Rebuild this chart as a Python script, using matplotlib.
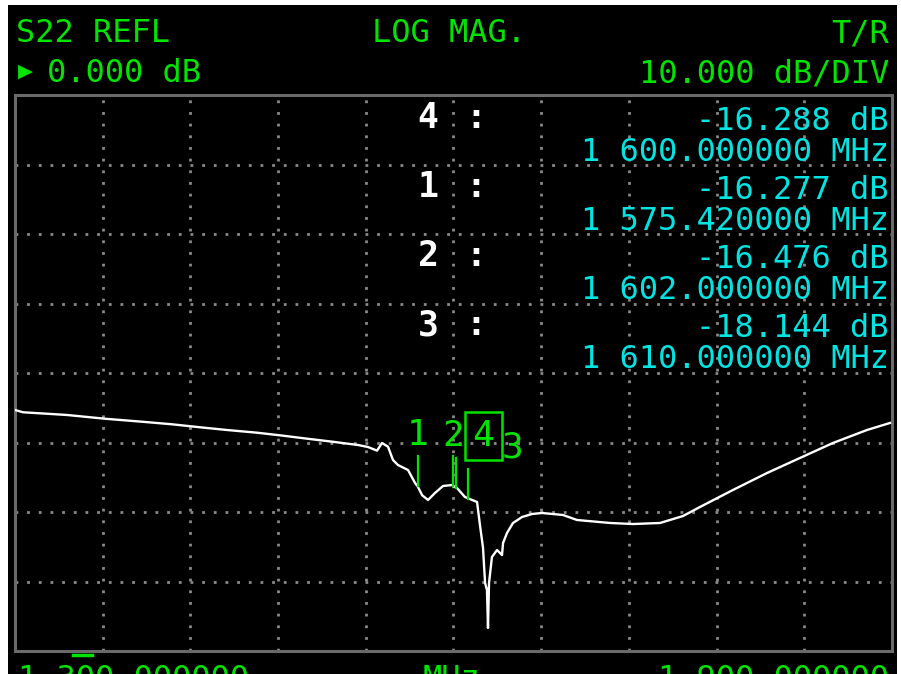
import numpy as np
import matplotlib.pyplot as plt
from matplotlib.patches import Rectangle
from matplotlib.lines import Line2D

W, H = 901, 674

# S22 trace (MHz, dB)
freq = [1300.0, 1305.5, 1335.6, 1361.6, 1386.9, 1407.4, 1426.6, 1445.0, 1465.6, 1483.4,
        1499.8, 1516.9, 1534.7, 1541.5, 1547.7, 1551.1, 1555.2, 1558.6, 1562.0, 1568.9,
        1573.7, 1575.4, 1578.6, 1582.6, 1587.3, 1592.8, 1598.8, 1602.4, 1607.8, 1616.1,
        1618.1, 1620.2, 1621.6, 1622.9, 1623.6, 1624.3, 1626.3, 1629.8, 1633.2, 1633.9,
        1636.6, 1640.7, 1646.9, 1653.7, 1660.5, 1674.9, 1684.5, 1707.1, 1722.8, 1741.3,
        1757.0, 1768.6, 1791.2, 1814.5, 1837.0, 1859.6, 1882.9, 1898.6]
s22 = [-5.32, -5.65, -6.04, -6.58, -7.01, -7.38, -7.81, -8.20, -8.59, -9.02,
       -9.45, -9.88, -10.36, -10.65, -11.17, -10.07, -10.60, -12.52, -13.24, -13.96,
       -15.83, -16.28, -17.6, -18.27, -17.27, -16.26, -16.12, -16.55, -17.84, -18.56,
       -21.87, -25.18, -30.22, -31.22, -36.69, -30.22, -26.47, -25.47, -26.19, -24.46,
       -23.02, -21.58, -20.72, -20.29, -20.14, -20.43, -21.15, -21.58, -21.73, -21.58,
       -20.58, -19.28, -16.83, -14.39, -12.23, -10.07, -8.20, -7.19]

# markers, in the order of the readout list
mk_names = ['4', '1', '2', '3']
mk_freq = [1600.0, 1575.42, 1602.0, 1610.0]
mk_db = [-16.288, -16.277, -16.476, -18.144]
active = '4'

start_mhz, stop_mhz = 1300.0, 1900.0
ref_db, db_per_div, n_div = 0.0, 10.0, 8

GREEN = '#00e400'
CYAN = '#00e4e4'
MONO = 'DejaVu Sans Mono'
FS = 23


def mhz_str(f):
    s = f'{f:.6f}'
    return s[0] + ' ' + s[1:]


fig = plt.figure(figsize=(W / 100, H / 100), dpi=100, facecolor='white')
fig.patches.append(Rectangle((8 / W, 0), 889 / W, 1 - 5 / H, transform=fig.transFigure,
                             facecolor='black', edgecolor='none', zorder=-5))

ax = fig.add_axes([15 / W, 1 - 651 / H, 877 / W, 556 / H])
ax.set_facecolor('black')
ax.set_xlim(start_mhz, stop_mhz)
half = db_per_div * n_div / 2
ax.set_ylim(ref_db - half, ref_db + half)
ax.set_xticks(np.linspace(start_mhz, stop_mhz, 11))
ax.set_yticks(np.arange(ref_db - half, ref_db + half + 1, db_per_div))
ax.tick_params(length=0, labelbottom=False, labelleft=False)
ax.grid(True, color='#8a8a8a', linewidth=2.0, linestyle=(0, (1, 3.2)))
for sp in ax.spines.values():
    sp.set_color('#6a6a6a')
    sp.set_linewidth(2.2)

ax.plot(freq, s22, color='white', linewidth=1.7, zorder=3)

# marker flags on the trace
tick_len = 4.3
offs = {'1': (0, 51), '2': (-3, 52), '4': (30, 50), '3': (44, 52)}
for name, f, d in zip(mk_names, mk_freq, mk_db):
    ax.plot([f, f], [d, d + tick_len], color=GREEN, linewidth=1.6, zorder=4)
    box = None
    if name == active:
        box = dict(boxstyle='square,pad=0.2', facecolor='none', edgecolor=GREEN, linewidth=1.8)
    ax.annotate(name, (f, d), xytext=offs[name], textcoords='offset pixels',
                ha='center', va='center', color=GREEN, family=MONO, fontsize=26,
                bbox=box, zorder=5)


def put(x, y, s, color, ha='left', va='baseline', **kw):
    kw.setdefault('fontsize', FS)
    kw.setdefault('family', MONO)
    fig.text(x / W, 1 - y / H, s, color=color, ha=ha, va=va, **kw)


# header
put(16, 42, 'S22 REFL', GREEN)
put(372, 42, 'LOG MAG.', GREEN)
put(889, 42, 'T/R', GREEN, ha='right')
put(25, 71, '\u25b6', GREEN, ha='center', va='center', fontsize=14, family='DejaVu Sans')
put(47, 82, f'{ref_db:.3f} dB', GREEN)
put(889, 82, f'{db_per_div:.3f} dB/DIV', GREEN, ha='right')

# marker readout
for i, (name, f, d) in enumerate(zip(mk_names, mk_freq, mk_db)):
    yb = 130 + 69 * i
    put(428, yb - 2, name, 'white', ha='center', fontweight='bold', fontsize=25)
    put(476, yb - 2, ':', 'white', ha='center', fontweight='bold', fontsize=25)
    put(889, yb, f'{d:.3f} dB', CYAN, ha='right')
    put(889, yb + 31, mhz_str(f) + ' MHz', CYAN, ha='right')

# stimulus line, cut off by the bottom of the picture as on the screen
put(18, 688, mhz_str(start_mhz), GREEN)
put(452, 688, 'MHz', GREEN, ha='center')
put(889, 688, mhz_str(stop_mhz), GREEN, ha='right')
fig.add_artist(Line2D([73 / W, 92 / W], [1 - 655 / H, 1 - 655 / H], color=GREEN, linewidth=2.5))

fig.savefig('out.png', dpi=100, facecolor='white')
